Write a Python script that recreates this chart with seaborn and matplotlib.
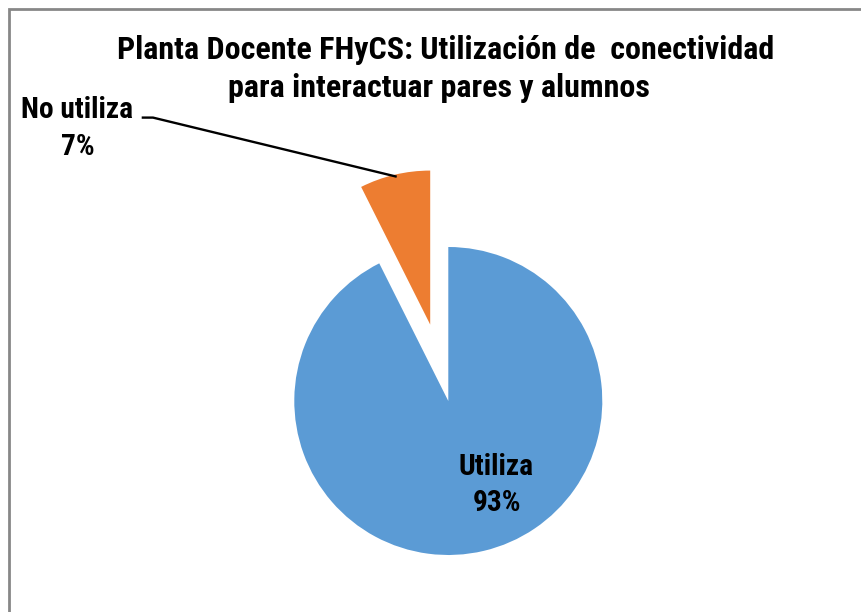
import matplotlib
matplotlib.use("Agg")
import matplotlib.pyplot as plt
import matplotlib.patches as mpatches
import seaborn as sns

# ---- data ----
categories = ["Utiliza", "No utiliza"]
shares = [92.6, 7.4]
pct_labels = ["93%", "7%"]
title_lines = ["Planta Docente FHyCS: Utilización de  conectividad",
               "para interactuar pares y alumnos"]

sns.set_theme(style="white")
FONT = ["Roboto Condensed", "Liberation Sans Narrow", "Roboto", "DejaVu Sans"]
plt.rcParams["font.family"] = FONT

colors = ["#5B9BD5", "#ED7D31"]

W, H = 861, 612
fig = plt.figure(figsize=(W / 100, H / 100), dpi=100)
fig.patch.set_facecolor("white")

# chart border (extends past right/bottom edges)
fig.add_artist(mpatches.Rectangle((8.5 / W, -0.2), 1.5, (H - 8.5) / H + 0.2,
                                  transform=fig.transFigure, fill=False,
                                  edgecolor="#878787", linewidth=2.0, zorder=0))

ax = fig.add_axes([0, 0, 1, 1])
R = 154.0
cx, cy = 448.3, H - 401.0
ax.pie(shares, colors=colors, startangle=90, counterclock=False,
       explode=[0, 0.51], radius=1.0, wedgeprops=dict(linewidth=0))
ax.set_aspect("auto")
ax.set_xlim(-cx / R, (W - cx) / R)
ax.set_ylim(-cy / R, (H - cy) / R)
ax.axis("off")

renderer = fig.canvas.get_renderer()

def ftext(px, py, s, size):
    return fig.text(px / W, 1 - py / H, s, ha="center", va="baseline",
                    fontsize=size, fontweight="bold", color="black")

def fit(t, target_px):
    w = t.get_window_extent(renderer).width
    t.set_fontsize(t.get_fontsize() * target_px / w)
    return t.get_fontsize()

# title
t1 = ftext(445.5, 59.3, title_lines[0], 20)
fs_title = fit(t1, 654)
ftext(439, 96.7, title_lines[1], fs_title)

# labels
l1 = ftext(495.5, 475, categories[0], 18)
fs_lab = fit(l1, 75)
ftext(496.7, 510.7, pct_labels[0], fs_lab)
ftext(77, 118, categories[1], fs_lab)
ftext(78, 155, pct_labels[1], fs_lab)

# leader line
def d(px, py):
    return ((px - cx) / R, ((H - py) - cy) / R)

p0, p1, p2 = d(141.7, 117.6), d(153, 117.6), d(396.7, 176.7)
ax.plot([p0[0], p1[0], p2[0]], [p0[1], p1[1], p2[1]], color="black", lw=1.7,
        solid_capstyle="butt")

fig.savefig("out.png", dpi=100, facecolor="white")
